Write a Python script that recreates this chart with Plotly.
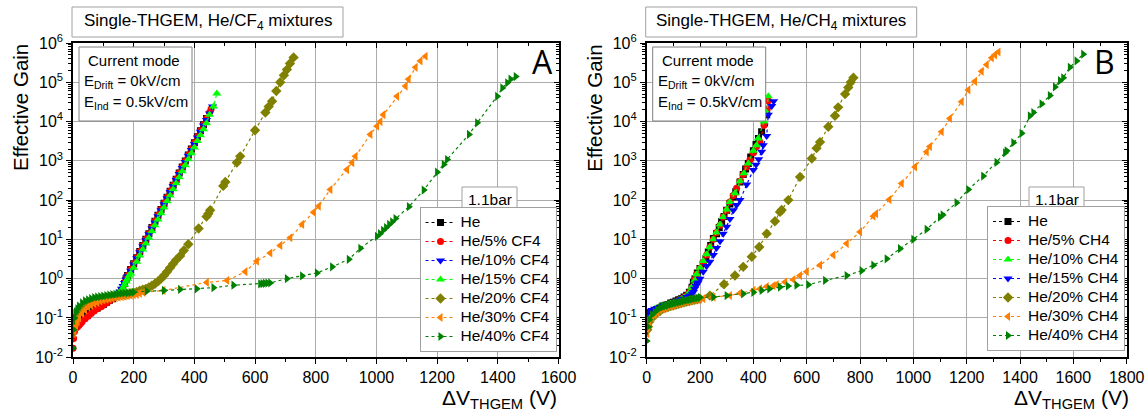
import plotly.graph_objects as go

W, H = 1148, 415

# ---------------- Panel A : He/CF4 ----------------
a_he_v = [5,10,20,30,40,50,60,70,80,90,100,110,120,130,140,150,160,170,175,180,190,200,210,220,230,240,250,260,270,280,290,300,310,320,330,340,350,360,370,380,390,400,410,420,430,440]
a_he_g = [0.06,0.08,0.1,0.11,0.12,0.13,0.15,0.17,0.18,0.2,0.22,0.25,0.28,0.31,0.35,0.4,0.5,0.75,1.0,1.2,1.7,2.4,3.4,4.9,7,10,14,20,29,41,58,83,118,168,240,340,490,700,990,1400,2000,2900,4100,5800,8300,12000]

a_5_v = [0,2,5,10,15,20,25,30,40,50,60,70,80,90,100,110,120,130,140,150,160,165,170,175,180,190,200,210,220,230,240,250,260,270,280,290,300,310,320,330,340,350,360,370,380,390,400,410,420,430,440,450,455]
a_5_g = [0.017,0.03,0.045,0.055,0.06,0.065,0.072,0.08,0.095,0.11,0.13,0.15,0.17,0.19,0.21,0.24,0.27,0.31,0.35,0.4,0.5,0.62,0.78,1.0,1.2,1.7,2.4,3.4,4.9,7.0,10,14,20,29,41,58,83,118,168,240,340,490,700,990,1400,2000,2900,4100,5800,8300,12000,17000,21000]

a_10_v = [2,5,10,15,20,30,40,50,60,70,80,90,100,110,120,130,140,150,155,160,165,170,175,180,190,200,210,220,230,240,250,260,270,280,290,300,310,320,330,340,350,360,370,380,390,400,410,420,430,440,450,460]
a_10_g = [0.1,0.12,0.13,0.14,0.15,0.17,0.19,0.21,0.23,0.25,0.27,0.29,0.31,0.33,0.35,0.37,0.39,0.42,0.47,0.55,0.65,0.78,0.95,1.15,1.6,2.3,3.3,4.7,6.7,9.5,13.5,19,27,39,55,78,112,160,228,325,460,660,940,1350,1900,2700,3900,5500,7900,11000,16000,24000]

a_15_v = [2,5,10,20,30,40,50,60,70,80,90,100,110,120,130,140,150,160,165,170,175,180,185,190,200,210,220,230,240,250,260,270,280,290,300,310,320,330,340,350,360,370,380,390,400,410,420,430,440,450,463,474]
a_15_g = [0.12,0.14,0.16,0.18,0.2,0.22,0.24,0.25,0.27,0.29,0.3,0.32,0.34,0.36,0.38,0.4,0.43,0.5,0.58,0.7,0.85,1.0,1.2,1.35,1.9,2.7,3.9,5.5,7.8,11,16,23,32,46,65,93,130,190,270,380,540,770,1100,1550,2200,3200,4500,6400,9100,15000,24000,52000]

a_20_v = [2,5,10,15,20,25,30,40,50,60,70,80,90,100,110,120,130,140,150,160,170,180,190,200,210,220,230,240,250,260,270,280,290,300,310,320,330,340,353,365,380,414,440,446,452,495,502,540,551,600,634,645,656,670,683,695,705,715,727]
a_20_g = [0.06,0.08,0.1,0.12,0.14,0.16,0.18,0.2,0.22,0.24,0.26,0.28,0.3,0.31,0.33,0.34,0.35,0.36,0.37,0.38,0.39,0.4,0.42,0.44,0.46,0.49,0.52,0.55,0.6,0.66,0.74,0.85,1.0,1.2,1.5,1.9,2.4,3.0,3.8,5.2,7.5,19,38,45,55,230,290,900,1300,6000,17000,24000,33000,60000,100000,150000,210000,300000,430000]

a_30_v = [2,5,10,15,20,30,40,50,60,70,80,90,100,110,120,130,140,150,160,170,180,190,200,210,220,232,298,441,508,568,606,650,683,716,755,793,810,848,903,920,931,980,1002,1013,1023,1068,1096,1106,1129,1145,1162]
a_30_g = [0.04,0.05,0.06,0.08,0.1,0.13,0.16,0.19,0.21,0.23,0.25,0.27,0.29,0.3,0.31,0.32,0.33,0.34,0.35,0.36,0.37,0.38,0.39,0.4,0.42,0.45,0.5,0.8,0.9,1.5,2.8,4.5,7,11,24,49,70,186,600,900,1300,4700,7600,10000,15000,44000,80000,120000,240000,350000,460000]

a_40_v = [0,2,5,10,15,20,30,40,50,60,70,80,90,100,110,120,130,140,150,160,170,180,190,200,243,300,353,408,463,529,617,625,633,641,650,705,755,804,854,909,947,1002,1012,1022,1032,1042,1052,1063,1107,1156,1200,1222,1233,1305,1332,1398,1415,1431,1442,1459]
a_40_g = [0.017,0.05,0.1,0.14,0.17,0.2,0.24,0.27,0.29,0.31,0.33,0.34,0.35,0.36,0.37,0.38,0.39,0.4,0.41,0.42,0.43,0.43,0.44,0.45,0.48,0.5,0.53,0.55,0.59,0.68,0.74,0.75,0.76,0.77,0.78,1.0,1.17,1.4,2.0,3.1,5.9,12,14,17,20,24,28,34,68,180,515,810,1080,4700,9300,44000,72000,97000,120000,140000]

# ---------------- Panel B : He/CH4 ----------------
b_he_v = [2,5,10,20,30,40,50,60,70,80,90,100,110,120,130,140,150,160,170,175,181,190,200,212,222,231,240,250,262,272,281,290,300,312,325,334,350,362,371,381,390,400,410,419,431,450]
b_he_g = [0.06,0.08,0.1,0.12,0.14,0.16,0.18,0.2,0.21,0.22,0.24,0.25,0.27,0.29,0.31,0.34,0.38,0.45,0.6,0.8,1.0,1.4,1.8,2.4,3.2,4.8,7,10.5,14,20,28,38,55,80,120,162,290,450,620,850,1250,1800,2600,3700,5500,15000]

b_5_v = [2,5,10,20,30,40,50,60,70,80,90,100,110,120,130,140,150,160,170,180,187,200,212,225,237,250,262,275,287,300,312,325,337,350,362,375,387,400,412,425,440,452,456]
b_5_g = [0.05,0.07,0.09,0.11,0.13,0.15,0.17,0.19,0.2,0.21,0.23,0.24,0.26,0.28,0.3,0.33,0.37,0.45,0.6,0.95,1.3,1.8,2.6,4,6.4,10,15,23,37,55,90,130,200,300,450,700,1050,1600,2300,3000,8000,21000,34000]

b_10_v = [2,5,10,20,30,40,50,60,70,80,90,100,110,120,130,140,150,160,170,180,187,200,212,225,237,250,262,275,287,300,312,331,350,365,381,400,412,418,440,450,456]
b_10_g = [0.1,0.12,0.13,0.15,0.17,0.18,0.19,0.2,0.21,0.22,0.23,0.24,0.26,0.28,0.3,0.33,0.37,0.45,0.62,0.9,1.3,1.9,2.8,4.2,6.4,10,15,24,37,58,90,150,300,480,850,1800,2500,3700,10000,17000,44000]

b_15_v = [2,5,10,20,30,40,50,60,70,80,87,100,110,120,130,137,150,160,170,175,180,185,190,193,200,212,225,237,250,262,275,287,300,312,325,337,350,375,400,410,420,431,437,450,456,469,476]
b_15_g = [0.13,0.14,0.15,0.16,0.17,0.18,0.19,0.2,0.21,0.22,0.23,0.24,0.26,0.28,0.3,0.31,0.34,0.37,0.41,0.46,0.55,0.65,0.75,0.8,1.0,1.5,2.1,2.7,4,6,9,14,21,33,55,75,100,250,580,800,1100,1700,2500,4300,15000,25000,33000]

b_20_v = [2,5,10,20,30,40,50,60,70,80,90,100,110,120,130,140,150,160,170,180,190,200,237,290,331,362,394,422,450,481,500,506,531,575,619,637,650,681,706,718,744,756,765,775]
b_20_g = [0.05,0.06,0.08,0.1,0.12,0.14,0.15,0.17,0.18,0.19,0.2,0.21,0.22,0.23,0.24,0.25,0.26,0.27,0.28,0.29,0.3,0.31,0.37,0.72,1.2,2,3.6,6.4,14,29,50,56,100,390,1150,2100,3000,7400,14000,23000,50000,74000,100000,130000]

b_30_v = [2,5,10,20,30,40,50,60,70,80,90,100,110,120,130,140,150,160,170,180,190,200,212,250,312,350,400,425,450,475,487,519,550,575,600,650,700,750,800,850,860,910,956,1006,1050,1062,1106,1137,1181,1206,1231,1256,1275,1294,1306,1319]
b_30_g = [0.04,0.06,0.08,0.1,0.12,0.14,0.16,0.17,0.18,0.19,0.2,0.21,0.22,0.23,0.24,0.25,0.26,0.27,0.28,0.29,0.3,0.3,0.31,0.34,0.37,0.43,0.5,0.55,0.63,0.66,0.7,0.82,0.94,1.2,1.5,2.2,4,7.8,15.5,39,45,103,265,700,1700,2300,5500,12000,32000,64000,106000,190000,280000,420000,500000,590000]

b_40_v = [0,5,10,20,30,40,50,60,70,80,90,100,110,120,130,140,150,160,170,180,190,200,250,300,362,400,431,460,500,530,562,606,669,750,806,850,900,950,1000,1050,1100,1110,1162,1206,1262,1312,1344,1350,1375,1406,1437,1450,1481,1512,1531,1550,1562,1587,1612,1637]
b_40_g = [0.026,0.06,0.09,0.12,0.14,0.16,0.18,0.19,0.2,0.21,0.22,0.23,0.24,0.25,0.26,0.27,0.28,0.29,0.3,0.31,0.32,0.33,0.34,0.37,0.41,0.45,0.5,0.55,0.61,0.65,0.68,0.7,0.9,1.2,1.6,2.2,3.2,5.8,10,18,37,42,86,186,410,910,1600,1800,2900,5000,14000,17000,28000,46000,76000,110000,130000,240000,350000,520000]

names_a = ["He", "He/5% CF4", "He/10% CF4", "He/15% CF4", "He/20% CF4", "He/30% CF4", "He/40% CF4"]
names_b = ["He", "He/5% CH4", "He/10% CH4", "He/15% CH4", "He/20% CH4", "He/30% CH4", "He/40% CH4"]
x_ticks_a = [0, 200, 400, 600, 800, 1000, 1200, 1400, 1600]
x_ticks_b = [0, 200, 400, 600, 800, 1000, 1200, 1400, 1600, 1800]

BLACK, RED, BLUE, LIME, OLIVE, ORANGE, GREEN = "#000000", "#FF0000", "#0000FF", "#00FF00", "#808000", "#FF8000", "#008000"

series_a = [
    (a_he_v, a_he_g, BLACK, "square"),
    (a_5_v, a_5_g, RED, "circle"),
    (a_10_v, a_10_g, BLUE, "triangle-down"),
    (a_15_v, a_15_g, LIME, "triangle-up"),
    (a_20_v, a_20_g, OLIVE, "diamond"),
    (a_30_v, a_30_g, ORANGE, "triangle-left"),
    (a_40_v, a_40_g, GREEN, "triangle-right"),
]
series_b = [
    (b_he_v, b_he_g, BLACK, "square"),
    (b_5_v, b_5_g, RED, "circle"),
    (b_10_v, b_10_g, LIME, "triangle-up"),
    (b_15_v, b_15_g, BLUE, "triangle-down"),
    (b_20_v, b_20_g, OLIVE, "diamond"),
    (b_30_v, b_30_g, ORANGE, "triangle-left"),
    (b_40_v, b_40_g, GREEN, "triangle-right"),
]

FONT = "Liberation Sans, Arial, sans-serif"
fig = go.Figure()

SIZES = {"square": 7, "circle": 7, "diamond": 8}

def add_series(series, names, xa, ya, leg):
    for (v, g, c, sym), name in zip(series, names):
        fig.add_trace(go.Scatter(
            x=v, y=g, mode="lines+markers", xaxis=xa, yaxis=ya, legend=leg,
            name='<span style="font-size:15.5px">%s</span>' % name,
            line=dict(color=c, width=1.2, dash="dot"),
            marker=dict(color=c, symbol=sym, size=SIZES.get(sym, 8), line=dict(width=0)),
        ))

add_series(series_a, names_a, "x", "y", "legend")
add_series(series_b, names_b, "x2", "y2", "legend2")

# dummy traces so the mirrored (inside-tick) axes are drawn
for xa, ya in (("x3", "y"), ("x", "y3"), ("x4", "y2"), ("x2", "y4")):
    fig.add_trace(go.Scatter(x=[None], y=[None], xaxis=xa, yaxis=ya, showlegend=False, hoverinfo="skip"))

def px(x): return x / W
def py(y): return 1 - y / H

ydom = [py(357.2), py(43)]
xdomA = [px(73), px(558.5)]
xdomB = [px(646.7), px(1126.7)]

ytickv = [10.0 ** k for k in range(-2, 7)]
ytickt = ["10<sup>%d</sup>" % k for k in range(-2, 7)]
minor_log = [m * 10.0 ** k for k in range(-2, 6) for m in range(2, 10)]
GRID = "#ABABAB"

def xaxis_main(dom, ticks, anchor):
    return dict(domain=dom, range=[ticks[0], ticks[-1]], anchor=anchor, tickvals=ticks, automargin=False,
                showgrid=True, gridcolor=GRID, gridwidth=1, zeroline=False,
                showline=True, linecolor="black", linewidth=1.5, mirror=True,
                ticks="outside", ticklen=5, tickwidth=1, tickcolor="black",
                minor=dict(dtick=100, tick0=0, ticks="outside", ticklen=3, tickcolor="black", showgrid=False),
                tickfont=dict(family=FONT, size=16, color="black"))

def yaxis_main(anchor):
    return dict(domain=ydom, type="log", range=[-2, 6], anchor=anchor, automargin=False,
                tickvals=ytickv, ticktext=ytickt,
                showgrid=True, gridcolor=GRID, gridwidth=1, zeroline=False,
                showline=True, linecolor="black", linewidth=1.5, mirror=True,
                ticks="outside", ticklen=5, tickwidth=1, tickcolor="black",
                minor=dict(tickvals=minor_log, ticks="outside", ticklen=3, tickcolor="black", showgrid=False),
                tickfont=dict(family=FONT, size=16, color="black"))

def xaxis_top(over, ticks, anchor):
    return dict(overlaying=over, side="top", range=[ticks[0], ticks[-1]], anchor=anchor, tickvals=ticks,
                automargin=False, showgrid=False, zeroline=False, showline=False, showticklabels=False,
                ticks="inside", ticklen=5, tickcolor="black",
                minor=dict(dtick=100, tick0=0, ticks="inside", ticklen=3, tickcolor="black", showgrid=False))

def yaxis_right(over, anchor):
    return dict(overlaying=over, side="right", type="log", range=[-2, 6], anchor=anchor, automargin=False,
                tickvals=ytickv, showgrid=False, zeroline=False, showline=False, showticklabels=False,
                ticks="inside", ticklen=5, tickcolor="black",
                minor=dict(tickvals=minor_log, ticks="inside", ticklen=3, tickcolor="black", showgrid=False))

legend_common = dict(bgcolor="white", bordercolor="#A0A0A0", borderwidth=1,
                     font=dict(family=FONT, size=12, color="black"),
                     xanchor="right", yanchor="bottom", tracegroupgap=0, itemwidth=30)

fig.update_layout(
    template="none",
    width=W, height=H, autosize=False,
    margin=dict(l=0, r=0, t=0, b=0, pad=0),
    paper_bgcolor="white", plot_bgcolor="white",
    font=dict(family=FONT, size=15, color="black"),
    xaxis=xaxis_main(xdomA, x_ticks_a, "y"),
    yaxis=yaxis_main("x"),
    xaxis2=xaxis_main(xdomB, x_ticks_b, "y2"),
    yaxis2=yaxis_main("x2"),
    xaxis3=xaxis_top("x", x_ticks_a, "y"),
    yaxis3=yaxis_right("y", "x"),
    xaxis4=xaxis_top("x2", x_ticks_b, "y2"),
    yaxis4=yaxis_right("y2", "x2"),
    legend=dict(x=px(556.5), y=py(352), **legend_common),
    legend2=dict(x=px(1125), y=py(351), **legend_common),
    showlegend=True,
)

shapes = []
annots = []

def box(x0, y0, x1, y1, color="#A0A0A0"):
    shapes.append(dict(type="rect", xref="paper", yref="paper", x0=px(x0), x1=px(x1), y0=py(y1), y1=py(y0),
                       line=dict(color=color, width=1), fillcolor="white", layer="above"))

def text(x, y, s, size=15, xanchor="center", family=FONT, angle=0):
    annots.append(dict(x=px(x), y=py(y), xref="paper", yref="paper", text=s, showarrow=False,
                       xanchor=xanchor, yanchor="middle", textangle=angle,
                       font=dict(family=family, size=size, color="black")))

for off, gas, letter, xl, xr, boff in ((0, "CF<sub>4</sub>", "A", 558.5, 542, 0), (573.7, "CH<sub>4</sub>", "B", 1131, 1104, 567)):
    box(72 + off, 7, 343 + off, 37)
    text(207.5 + off, 22, "Single-THGEM, He/%s mixtures" % gas, size=17)
    box(79 + off, 47, 192 + off, 121, color="#808080")
    text(134 + off, 61, "Current mode", size=15)
    text(82 + off, 81, "E<sub>Drift</sub> = 0kV/cm", size=15, xanchor="left")
    text(82 + off, 102, "E<sub>Ind</sub> = 0.5kV/cm", size=15, xanchor="left")
    text(xr, 62, letter, size=32, family="Open Sans, sans-serif")
    box(462 + boff, 187, 517 + boff, 212)
    text(489.5 + boff, 199.5, "1.1bar", size=15.5)
    text(20 + off, 108, "Effective Gain", size=20.5, angle=-90)
    annots.append(dict(x=px(xl), y=py(399), xref="paper", yref="paper",
                       text="ΔV<sub>THGEM</sub> (V)", showarrow=False, xanchor="right", yanchor="middle",
                       font=dict(family=FONT, size=21, color="black")))

fig.update_layout(shapes=shapes, annotations=annots)
fig.write_html("out.html", config={"displayModeBar": False},
               post_script="document.body.style.margin='0px';document.body.style.overflow='hidden';")
